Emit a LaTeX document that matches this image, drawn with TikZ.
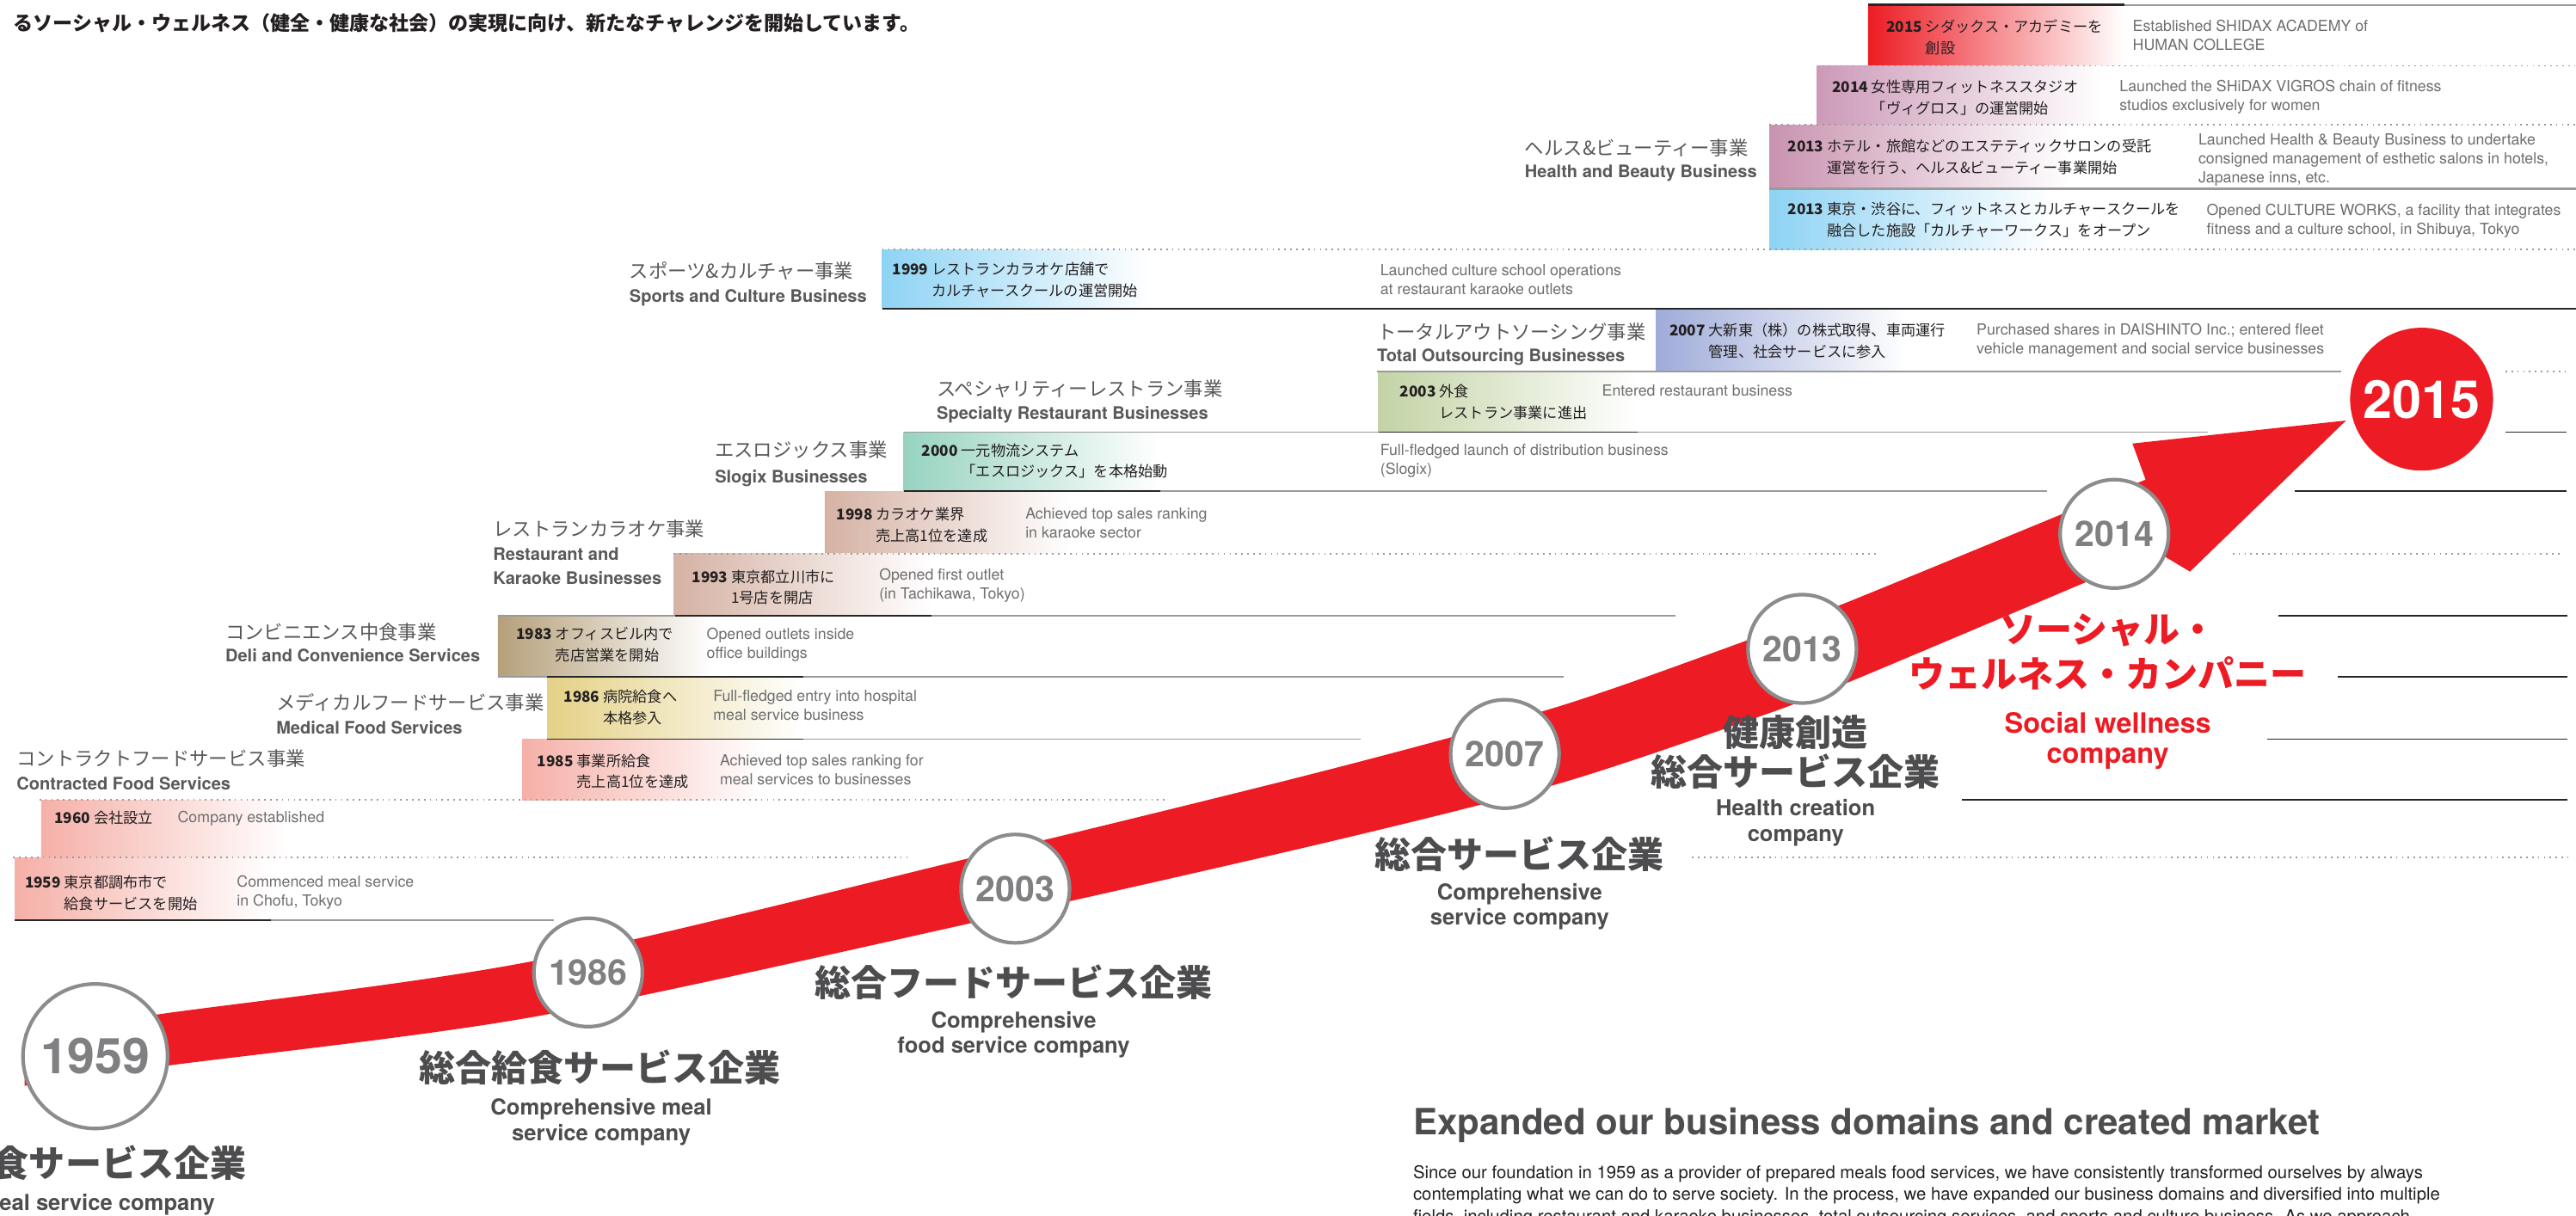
\documentclass[tikz,border=0pt]{standalone}
\usepackage{fontspec}
\setmainfont{TeX Gyre Heros}
\newfontfamily\jp{Noto Sans CJK JP}

\definecolor{swred}{HTML}{ED1C24}
\definecolor{ringgray}{HTML}{8C8C8C}
\definecolor{numgray}{HTML}{808082}
\definecolor{inkdark}{HTML}{231F20}
\definecolor{descgray}{HTML}{6D6E70}
\definecolor{labelgray}{HTML}{58595B}
\definecolor{headgray}{HTML}{4D4D4F}
\definecolor{rulegray}{HTML}{9A9A9A}
\definecolor{salmon}{HTML}{F39A7E}
\definecolor{c2014}{HTML}{CC9AB8}
\definecolor{chb}{HTML}{C993B0}
\definecolor{cblue}{HTML}{8ED3F4}
\definecolor{c2007}{HTML}{9FACD9}
\definecolor{c2003}{HTML}{C3D3A5}
\definecolor{c2000}{HTML}{97D3C0}
\definecolor{ckara}{HTML}{D5B2A4}
\definecolor{c1983}{HTML}{B5A07A}
\definecolor{c1986}{HTML}{E4D186}
\definecolor{cpink}{HTML}{F5B0A8}

\newcommand{\yrtext}[3]{\textbf{#1} #2\\\hphantom{\textbf{#1} }#3}

\tikzset{
  entry/.style={anchor=base west, inner sep=0pt, align=left, text=inkdark,
    font=\jp\fontsize{9}{13}\selectfont},
  desc/.style={anchor=base west, inner sep=0pt, align=left, text=descgray,
    font=\fontsize{9.3}{11.5}\selectfont},
  bizjp/.style={anchor=base west, inner sep=0pt, text=labelgray,
    font=\jp\fontsize{11.7}{14}\selectfont},
  bizen/.style={anchor=base west, inner sep=0pt, align=left, text=labelgray,
    font=\bfseries\fontsize{10.5}{14.5}\selectfont},
  bigjp/.style={anchor=base, inner sep=0pt, text=headgray,
    font=\jp\bfseries\fontsize{22}{24}\selectfont},
  bigen/.style={anchor=base, inner sep=0pt, align=center, text=headgray,
    font=\bfseries\fontsize{13.4}{15.5}\selectfont},
  ring/.style={circle, draw=ringgray, line width=2.2pt, fill=white,
    minimum size=66pt, inner sep=0pt, text=numgray,
    font=\bfseries\fontsize{21.5}{22}\selectfont},
  darkrule/.style={line width=0.9pt, draw=black!85},
  grayrule/.style={line width=0.9pt, draw=rulegray},
  dotrule/.style={line width=0.9pt, draw=rulegray, dash pattern=on 0.9pt off 2.7pt},
}

\begin{document}
\begin{tikzpicture}[x=1pt, y=-1pt]
\useasboundingbox (0,0) rectangle (1568,740);
\fill [white] (0,0) rectangle (1568,740);

\shade [left color=swred, middle color=salmon, right color=white] (1137,3) rectangle (1293,40);
\shade [left color=c2014, right color=white] (1106,40) rectangle (1280,76);
\shade [left color=chb, right color=white] (1077,76) rectangle (1260,115);
\shade [left color=cblue, right color=white] (1077,115) rectangle (1250,152);
\shade [left color=cblue, right color=white] (537,152) rectangle (700,188);
\shade [left color=c2007, right color=white] (1008,188) rectangle (1160,226);
\shade [left color=c2003, right color=white] (839,226) rectangle (997,263);
\shade [left color=c2000, right color=white] (550,263) rectangle (706,299);
\shade [left color=ckara, right color=white] (502,299) rectangle (652,337);
\shade [left color=ckara, right color=white] (410,337) rectangle (567,375);
\shade [left color=c1983, right color=white] (303,375) rectangle (433,412);
\shade [left color=c1986, right color=white] (333,412) rectangle (489,450);
\shade [left color=cpink, right color=white] (318,450) rectangle (465,487);
\shade [left color=cpink, right color=white] (25,487) rectangle (175,522);
\shade [left color=cpink, right color=white] (9,522) rectangle (165,560);

\draw [darkrule, line width=1.3pt] (1137,3) -- (1293,3);
\draw [grayrule] (1293,3) -- (1568,3);
\draw [dotrule] (1106,40) -- (1568,40);
\draw [dotrule] (1077,76) -- (1568,76);
\draw [grayrule, line width=1.6pt] (1077,115) -- (1568,115);
\draw [dotrule] (537,152) -- (1568,152);
\draw [darkrule] (537,188) -- (1568,188);
\draw [grayrule] (838,226) -- (1425,226);
\draw [dotrule] (1525,226) -- (1562,226);
\draw [grayrule] (550,263) -- (1344,263);
\draw [darkrule] (839,263) -- (997,263);
\draw [darkrule] (1525,263) -- (1562,263);
\draw [grayrule] (706,299) -- (1246,299);
\draw [darkrule] (550,299) -- (706,299);
\draw [darkrule] (1397,299) -- (1562,299);
\draw [dotrule] (410,337) -- (1143,337);
\draw [dotrule] (1359,337) -- (1558,337);
\draw [grayrule] (303,375) -- (1020,375);
\draw [darkrule] (411,375) -- (567,375);
\draw [darkrule] (1387,375) -- (1563,375);
\draw [grayrule] (303,412) -- (952,412);
\draw [darkrule] (333,412) -- (489,412);
\draw [darkrule] (1423,412) -- (1563,412);
\draw [grayrule] (333,450) -- (828,450);
\draw [darkrule] (333,450) -- (489,450);
\draw [darkrule] (1380,450) -- (1563,450);
\draw [dotrule] (24,487) -- (710,487);
\draw [darkrule] (1194,487) -- (1563,487);
\draw [dotrule] (8,522) -- (555,522);
\draw [dotrule] (1030,522) -- (1563,522);
\draw [darkrule] (9,560) -- (165,560);
\draw [grayrule] (165,560) -- (337,560);

\fill [swred] plot [smooth] coordinates {(15,629) (100,617) (325,585) (600,520) (811,468) (949,430) (1063,390) (1126,366) (1306,292)}
  -- (1298,270) -- (1428,256) -- (1333,348) -- (1313,336)
  -- plot [smooth] coordinates {(1313,336) (1126,415) (1063,439) (949,477) (811,512) (600,560) (325,619) (100,649) (15,661)}
  -- cycle;

\node [ring, minimum size=88pt, font=\bfseries\fontsize{30}{30}\selectfont] (c1959) at (58,643) {1959};
\node [ring] (c1986) at (358,592) {1986};
\node [ring] (c2003) at (618,541) {2003};
\node [ring] (c2007) at (916,459) {2007};
\node [ring] (c2013) at (1097,395) {2013};
\node [ring] (c2014) at (1287,325) {2014};
\node [circle, fill=swred, minimum size=87pt, inner sep=0pt, text=white, font=\bfseries\fontsize{32}{32}\selectfont] (c2015) at (1474,243) {2015};

\node [anchor=base west, inner sep=0pt, text=inkdark, font=\jp\bfseries\fontsize{12.05}{14}\selectfont] (lead) at (8,18.5) {るソーシャル・ウェルネス（健全・健康な社会）の実現に向け、新たなチャレンジを開始しています。};

\node [entry] (e2015) at (1148,32.5) {\yrtext{2015}{シダックス・アカデミーを}{創設}};
\node [desc] (d2015) at (1298,30.5) {Established SHIDAX ACADEMY of\\HUMAN COLLEGE};
\node [entry] (e2014) at (1115,69.5) {\yrtext{2014}{女性専用フィットネススタジオ}{「ヴィグロス」の運営開始}};
\node [desc] (d2014) at (1290,67.5) {Launched the SHiDAX VIGROS chain of fitness\\studios exclusively for women};
\node [entry] (e2013a) at (1088,105.5) {\yrtext{2013}{ホテル・旅館などのエステティックサロンの受託}{運営を行う、ヘルス\&ビューティー事業開始}};
\node [desc] (d2013a) at (1338,111) {Launched Health \& Beauty Business to undertake\\consigned management of esthetic salons in hotels,\\Japanese inns, etc.};
\node [entry] (e2013b) at (1088,143.5) {\yrtext{2013}{東京・渋谷に、フィットネスとカルチャースクールを}{融合した施設「カルチャーワークス」をオープン}};
\node [desc] (d2013b) at (1343,142.5) {Opened CULTURE WORKS, a facility that integrates\\fitness and a culture school, in Shibuya, Tokyo};
\node [entry] (e1999) at (543,180.5) {\yrtext{1999}{レストランカラオケ店舗で}{カルチャースクールの運営開始}};
\node [desc] (d1999) at (840,179.5) {Launched culture school operations\\at restaurant karaoke outlets};
\node [entry] (e2007) at (1016,217.5) {\yrtext{2007}{大新東（株）の株式取得、車両運行}{管理、社会サービスに参入}};
\node [desc] (d2007) at (1203,215.5) {Purchased shares in DAISHINTO Inc.; entered fleet\\vehicle management and social service businesses};
\node [entry] (e2003) at (852,254.5) {\yrtext{2003}{外食}{レストラン事業に進出}};
\node [desc] (d2003) at (975,241) {Entered restaurant business};
\node [entry] (e2000) at (561,290.5) {\yrtext{2000}{一元物流システム}{「エスロジックス」を本格始動}};
\node [desc] (d2000) at (840,288.5) {Full-fledged launch of distribution business\\(Slogix)};
\node [entry] (e1998) at (509,329.5) {\yrtext{1998}{カラオケ業界}{売上高1位を達成}};
\node [desc] (d1998) at (624,327.5) {Achieved top sales ranking\\in karaoke sector};
\node [entry] (e1993) at (421,367.5) {\yrtext{1993}{東京都立川市に}{1号店を開店}};
\node [desc] (d1993) at (535,364.5) {Opened first outlet\\(in Tachikawa, Tokyo)};
\node [entry] (e1983) at (314,402.5) {\yrtext{1983}{オフィスビル内で}{売店営業を開始}};
\node [desc] (d1983) at (430,400.5) {Opened outlets inside\\office buildings};
\node [entry] (e1986) at (343,440.5) {\yrtext{1986}{病院給食へ}{本格参入}};
\node [desc] (d1986) at (434,438.5) {Full-fledged entry into hospital\\meal service business};
\node [entry] (e1985) at (327,479.5) {\yrtext{1985}{事業所給食}{売上高1位を達成}};
\node [desc] (d1985) at (438,477.5) {Achieved top sales ranking for\\meal services to businesses};
\node [entry] (e1960) at (33,501.5) {\textbf{1960} 会社設立};
\node [desc] (d1960) at (108,501) {Company established};
\node [entry] (e1959) at (15,553.5) {\yrtext{1959}{東京都調布市で}{給食サービスを開始}};
\node [desc] (d1959) at (144,551.5) {Commenced meal service\\in Chofu, Tokyo};

\node [bizjp] (hbjp) at (928,94.3) {ヘルス\&ビューティー事業};
\node [bizen] (hben) at (928,108) {Health and Beauty Business};
\node [bizjp] (scjp) at (383,169.3) {スポーツ\&カルチャー事業};
\node [bizen] (scen) at (383,184) {Sports and Culture Business};
\node [bizjp] (tojp) at (838,206.3) {トータルアウトソーシング事業};
\node [bizen] (toen) at (838,220) {Total Outsourcing Businesses};
\node [bizjp] (srjp) at (570,241.3) {スペシャリティーレストラン事業};
\node [bizen] (sren) at (570,255) {Specialty Restaurant Businesses};
\node [bizjp] (sljp) at (435,278.3) {エスロジックス事業};
\node [bizen] (slen) at (435,294) {Slogix Businesses};
\node [bizjp] (rkjp) at (300,326.3) {レストランカラオケ事業};
\node [bizen] (rken) at (300,355.5) {Restaurant and\\Karaoke Businesses};
\node [bizjp] (dcjp) at (137,389.3) {コンビニエンス中食事業};
\node [bizen] (dcen) at (137,403) {Deli and Convenience Services};
\node [bizjp] (mfjp) at (168,432.3) {メディカルフードサービス事業};
\node [bizen] (mfen) at (168,447) {Medical Food Services};
\node [bizjp] (cfjp) at (10,466.3) {コントラクトフードサービス事業};
\node [bizen] (cfen) at (10,481) {Contracted Food Services};

\node [bigjp, anchor=base east] (l1959jp) at (150,716.5) {食サービス企業};
\node [bigen, anchor=base east] (l1959en) at (131,736.7) {eal service company};
\node [bigjp] (l1986jp) at (365,658.4) {総合給食サービス企業};
\node [bigen] (l1986en) at (366,694.2) {Comprehensive meal\\service company};
\node [bigjp] (l2003jp) at (617,606.4) {総合フードサービス企業};
\node [bigen] (l2003en) at (617,641.2) {Comprehensive\\food service company};
\node [bigjp] (l2007jp) at (925,528.4) {総合サービス企業};
\node [bigen] (l2007en) at (925,563.2) {Comprehensive\\service company};
\node [bigjp] (l2013jpa) at (1093,454.4) {健康創造};
\node [bigjp] (l2013jpb) at (1093,478.4) {総合サービス企業};
\node [bigen] (l2013en) at (1093,512.2) {Health creation\\company};
\node [bigjp, text=swred] (l2014jpa) at (1283,391.4) {ソーシャル・};
\node [bigjp, text=swred] (l2014jpb) at (1283,418.4) {ウェルネス・カンパニー};
\node [bigen, text=swred, font=\bfseries\fontsize{17}{18}\selectfont] (l2014en) at (1283,464.5) {Social wellness\\company};

\node [anchor=base west, inner sep=0pt, text=headgray, font=\bfseries\fontsize{22}{24}\selectfont] (title) at (860,691) {Expanded our business domains and created market};
\node [anchor=base west, inner sep=0pt, align=left, text=inkdark, font=\fontsize{10.65}{13.3}\selectfont] (para) at (860,744) {Since our foundation in 1959 as a provider of prepared meals food services, we have consistently transformed ourselves by always\\contemplating what we can do to serve society. In the process, we have expanded our business domains and diversified into multiple\\fields, including restaurant and karaoke businesses, total outsourcing services, and sports and culture business. As we approach};
\end{tikzpicture}
\end{document}
